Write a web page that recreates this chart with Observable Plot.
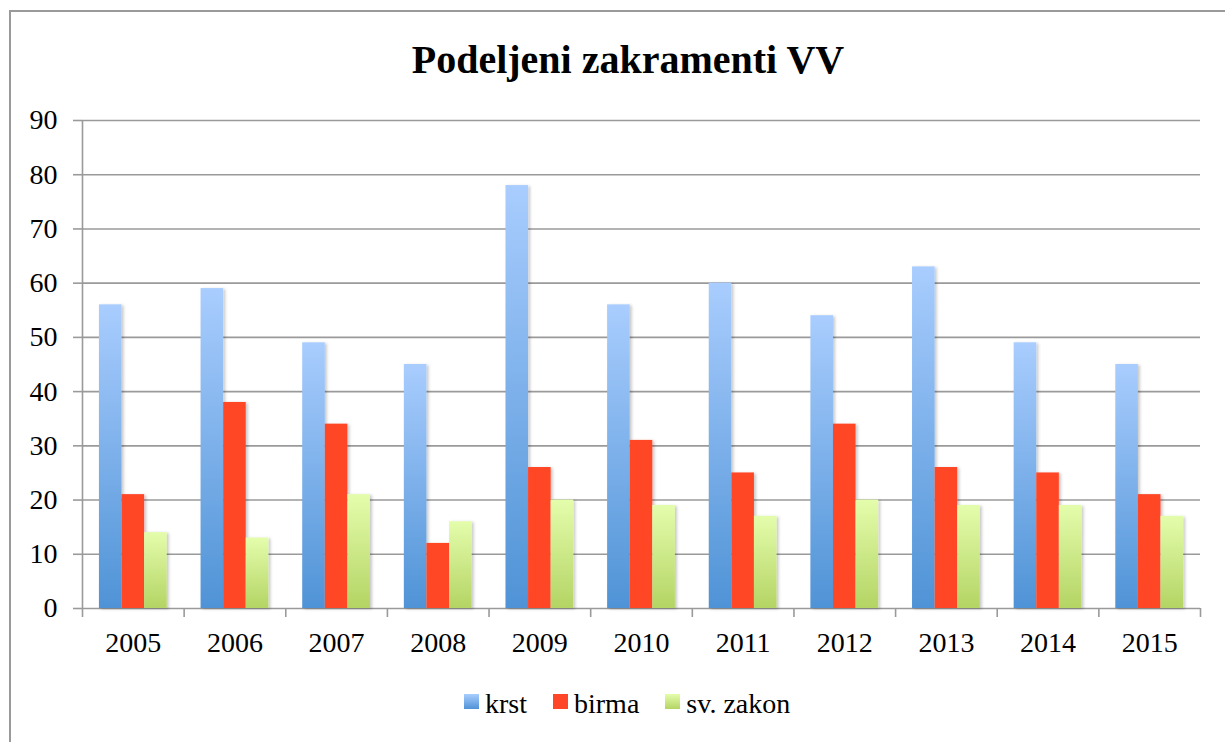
<!DOCTYPE html>
<html><head><meta charset="utf-8">
<script src="https://cdn.jsdelivr.net/npm/d3@7"></script>
<script src="https://cdn.jsdelivr.net/npm/@observablehq/plot@0.6"></script>
<style>
body{margin:0;background:#fff;}
#wrap{position:relative;width:1225px;height:742px;overflow:hidden;font-family:"Liberation Serif",serif;color:#000;}
#border{position:absolute;left:9px;top:10px;width:1300px;height:800px;border:2px solid #9a9a9a;box-sizing:border-box;}
#title{position:absolute;top:40px;left:0;width:1256px;text-align:center;font-weight:bold;font-size:40px;line-height:40px;}
#chart{position:absolute;left:0;top:80px;}
#legend{position:absolute;top:690px;left:464px;height:28px;display:flex;align-items:center;font-size:28px;line-height:28px;white-space:nowrap;}
#legend .item{display:flex;align-items:center;margin-right:26px;}
#legend .sw{width:15px;height:15px;margin-right:6px;position:relative;top:-3px;}
</style>
</head><body>
<div id="wrap">
  <div id="border"></div>
  <div id="title">Podeljeni zakramenti VV</div>
  <div id="chart"></div>
  <div id="legend"></div>
</div>
<script>
const years = [2005, 2006, 2007, 2008, 2009, 2010, 2011, 2012, 2013, 2014, 2015];
const krst  = [56, 59, 49, 45, 78, 56, 60, 54, 63, 49, 45];
const birma = [21, 38, 34, 12, 26, 31, 25, 34, 26, 25, 21];
const zakon = [14, 13, 21, 16, 20, 19, 17, 20, 19, 19, 17];
const seriesNames = ["krst", "birma", "sv. zakon"];
const yTicks = [0, 10, 20, 30, 40, 50, 60, 70, 80, 90];

const seriesValues = [krst, birma, zakon];
const fills = ["url(#g-krst)", "#FF4628", "url(#g-zakon)"];
const swatchCss = ["linear-gradient(#A9CDFE,#4F93D6)", "#FF4628", "linear-gradient(#E4FDAC,#B4D464)"];

// grouped layout: each year band split into padding + 3 bars + padding
const padFrac = 1 / 6, barFrac = 2 / 9;
const table = [];
seriesNames.forEach((s, i) => {
  years.forEach((yr, j) => {
    const x1 = yr - 0.5 + padFrac + i * barFrac;
    table.push({series: s, year: yr, value: seriesValues[i][j], x1, x2: x1 + barFrac});
  });
});
const boundaries = [years[0] - 0.5, ...years.map(y => y + 0.5)];

const defsMark = () => {
  const defs = d3.create("svg:defs");
  const g1 = defs.append("linearGradient").attr("id", "g-krst").attr("x1", 0).attr("y1", 0).attr("x2", 0).attr("y2", 1);
  g1.append("stop").attr("offset", "0%").attr("stop-color", "#A9CDFE");
  g1.append("stop").attr("offset", "100%").attr("stop-color", "#4F93D6");
  const g2 = defs.append("linearGradient").attr("id", "g-zakon").attr("x1", 0).attr("y1", 0).attr("x2", 0).attr("y2", 1);
  g2.append("stop").attr("offset", "0%").attr("stop-color", "#E4FDAC");
  g2.append("stop").attr("offset", "100%").attr("stop-color", "#B4D464");
  const f = defs.append("filter").attr("id", "shadow").attr("x", "-20%").attr("y", "-5%").attr("width", "150%").attr("height", "115%");
  f.append("feDropShadow").attr("dx", 2).attr("dy", 1).attr("stdDeviation", 1.5).attr("flood-color", "#000").attr("flood-opacity", 0.22);
  return defs.node();
};

const chart = Plot.plot({
  width: 1225,
  height: 600,
  marginTop: 40,
  marginBottom: 72,
  marginLeft: 82,
  marginRight: 25,
  style: {fontFamily: "'Liberation Serif', serif", fontSize: "28px", color: "#000", background: "transparent"},
  x: {type: "linear", domain: [boundaries[0], boundaries[boundaries.length - 1]]},
  y: {domain: [0, 90]},
  marks: [
    defsMark,
    Plot.gridY(yTicks, {stroke: "#9a9a9a", strokeOpacity: 1, strokeWidth: 1.6}),
    Plot.axisY(yTicks, {tickSize: 9, tickPadding: 16, stroke: "#9a9a9a", strokeOpacity: 1, strokeWidth: 1.6, fill: "#000", label: null, tickFormat: d => String(d)}),
    Plot.ruleX([boundaries[0]], {stroke: "#9a9a9a", strokeWidth: 1.6}),
    Plot.axisX(boundaries, {tickSize: 9, tickFormat: () => "", stroke: "#9a9a9a", strokeOpacity: 1, strokeWidth: 1.6, label: null}),
    Plot.axisX(years, {tickSize: 0, tickPadding: 24, tickFormat: d => String(d), fill: "#000", label: null}),
    ...seriesNames.map((s, i) =>
      Plot.rectY(table.filter(d => d.series === s), {x1: "x1", x2: "x2", y1: 0, y2: "value", fill: fills[i]})
    )
  ]
});
chart.querySelectorAll('g[aria-label="rect"]').forEach(g => g.setAttribute("filter", "url(#shadow)"));
document.getElementById("chart").appendChild(chart);

const legend = d3.select("#legend");
seriesNames.forEach((s, i) => {
  const it = legend.append("div").attr("class", "item");
  it.append("div").attr("class", "sw").style("background", swatchCss[i]);
  it.append("span").text(s);
});
</script>
</body></html>
